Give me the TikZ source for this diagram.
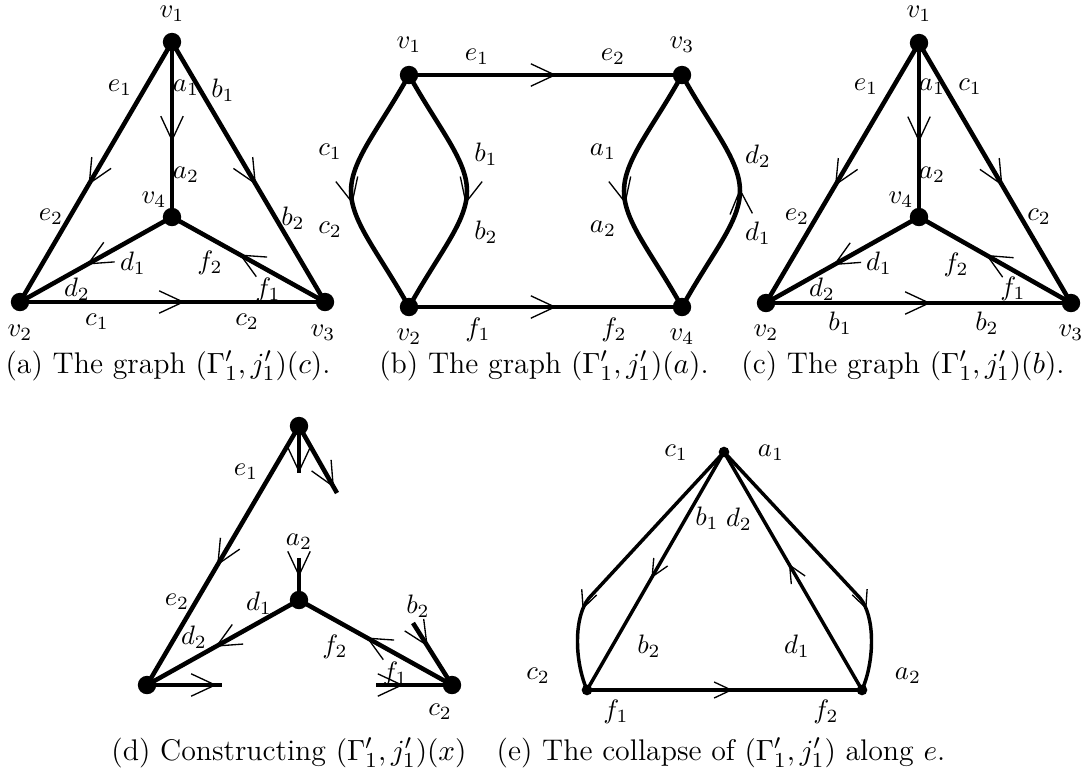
\documentclass[tikz,border=0pt]{standalone}
\usetikzlibrary{arrows.meta,decorations.markings}
\begin{document}
\begin{tikzpicture}[x=0.375pt,y=-0.375pt,
  edge/.style={line width=1.7pt},
  tedge/.style={line width=1.3pt},
  vtx/.style={circle,fill=black,inner sep=0pt,minimum size=6.9pt},
  svtx/.style={circle,fill=black,inner sep=0pt,minimum size=4pt},
  arr/.style={postaction={decorate,decoration={markings,mark=at position #1 with {\arrow{Straight Barb[length=9pt,width=8.4pt,line width=0.5pt]}}}}},
  sarr/.style={postaction={decorate,decoration={markings,mark=at position #1 with {\arrow{Straight Barb[length=6.4pt,width=6pt,line width=0.5pt]}}}}},
  lbl/.style={inner sep=0pt},
  captxt/.style={inner sep=0pt,anchor=base,font=\fontsize{11.2}{13}\selectfont},
]
\useasboundingbox (0,0) rectangle (1086,780);

% ---------------- (a) ----------------
\node[vtx] (va1) at (172,42) {};
\node[vtx] (va2) at (20,302) {};
\node[vtx] (va3) at (325,302) {};
\node[vtx] (va4) at (172,217) {};
\draw[edge,arr=0.55] (va1.center) -- (va2.center);
\draw[edge,arr=0.57] (va1.center) -- (va4.center);
\draw[edge,arr=0.55] (va1.center) -- (va3.center);
\draw[edge,arr=0.54] (va2.center) -- (va3.center);
\draw[edge,arr=0.56] (va4.center) -- (va2.center);
\draw[edge,arr=0.56] (va3.center) -- (va4.center);
\node[lbl] (la-v1) at (172,14) {$v_1$};
\node[lbl] (la-v2) at (20,333) {$v_2$};
\node[lbl] (la-v3) at (323,333) {$v_3$};
\node[lbl] (la-v4) at (154,200) {$v_4$};
\node[lbl] (la-e1) at (120,88) {$e_1$};
\node[lbl] (la-a1) at (186,88) {$a_1$};
\node[lbl] (la-b1) at (223,90) {$b_1$};
\node[lbl] (la-a2) at (186,175) {$a_2$};
\node[lbl] (la-e2) at (51,217) {$e_2$};
\node[lbl] (la-b2) at (293,218) {$b_2$};
\node[lbl] (la-d1) at (133,263) {$d_1$};
\node[lbl] (la-f2) at (210,263) {$f_2$};
\node[lbl] (la-d2) at (77,289) {$d_2$};
\node[lbl] (la-f1) at (268,290) {$f_1$};
\node[lbl] (la-c1) at (97,322) {$c_1$};
\node[lbl] (la-c2) at (247,322) {$c_2$};
\node[captxt] (capa) at (168,373) {(a) The graph $(\Gamma'_1, j'_1)(c)$.};

% ---------------- (b) ----------------
\node[vtx] (vb1) at (409,75) {};
\node[vtx] (vb3) at (682,75) {};
\node[vtx] (vb2) at (409,307) {};
\node[vtx] (vb4) at (682,307) {};
\draw[tedge,arr=0.54] (vb1.center) -- (vb3.center);
\draw[tedge,arr=0.54] (vb2.center) -- (vb4.center);
\draw[edge,arr=0.55] (vb1.center) .. controls (379,129) and (351,160) .. (351,191)
   .. controls (351,222) and (379,253) .. (vb2.center);
\draw[edge,arr=0.55] (vb1.center) .. controls (439,129) and (467,160) .. (467,191)
   .. controls (467,222) and (439,253) .. (vb2.center);
\draw[edge,arr=0.55] (vb3.center) .. controls (652,129) and (624,160) .. (624,191)
   .. controls (624,222) and (652,253) .. (vb4.center);
\draw[edge,arr=0.51] (vb4.center) .. controls (712,253) and (740,222) .. (740,191)
   .. controls (740,160) and (712,129) .. (vb3.center);
\node[lbl] (lb-v1) at (409,45) {$v_1$};
\node[lbl] (lb-v3) at (682,45) {$v_3$};
\node[lbl] (lb-v2) at (409,337) {$v_2$};
\node[lbl] (lb-v4) at (682,337) {$v_4$};
\node[lbl] (lb-e1) at (477,57) {$e_1$};
\node[lbl] (lb-e2) at (613,57) {$e_2$};
\node[lbl] (lb-f1) at (478,330) {$f_1$};
\node[lbl] (lb-f2) at (614,330) {$f_2$};
\node[lbl] (lb-c1) at (330,152) {$c_1$};
\node[lbl] (lb-c2) at (330,230) {$c_2$};
\node[lbl] (lb-b1) at (486,154) {$b_1$};
\node[lbl] (lb-b2) at (486,232) {$b_2$};
\node[lbl] (lb-a1) at (603,152) {$a_1$};
\node[lbl] (lb-a2) at (603,229) {$a_2$};
\node[lbl] (lb-d2) at (758,156) {$d_2$};
\node[lbl] (lb-d1) at (758,233) {$d_1$};
\node[captxt] (capb) at (544,373) {(b) The graph $(\Gamma'_1, j'_1)(a)$.};

% ---------------- (c) ----------------
\node[vtx] (vc1) at (919,43) {};
\node[vtx] (vc2) at (766,303) {};
\node[vtx] (vc3) at (1071,303) {};
\node[vtx] (vc4) at (919,217) {};
\draw[edge,arr=0.55] (vc1.center) -- (vc2.center);
\draw[edge,arr=0.57] (vc1.center) -- (vc4.center);
\draw[edge,arr=0.55] (vc1.center) -- (vc3.center);
\draw[edge,arr=0.54] (vc2.center) -- (vc3.center);
\draw[edge,arr=0.56] (vc4.center) -- (vc2.center);
\draw[edge,arr=0.56] (vc3.center) -- (vc4.center);
\node[lbl] (lc-v1) at (919,14) {$v_1$};
\node[lbl] (lc-v2) at (766,333) {$v_2$};
\node[lbl] (lc-v3) at (1071,333) {$v_3$};
\node[lbl] (lc-v4) at (901,200) {$v_4$};
\node[lbl] (lc-e1) at (866,87) {$e_1$};
\node[lbl] (lc-a1) at (932,87) {$a_1$};
\node[lbl] (lc-c1) at (970,87) {$c_1$};
\node[lbl] (lc-a2) at (932,175) {$a_2$};
\node[lbl] (lc-e2) at (797,217) {$e_2$};
\node[lbl] (lc-c2) at (1039,217) {$c_2$};
\node[lbl] (lc-d1) at (879,263) {$d_1$};
\node[lbl] (lc-f2) at (956,265) {$f_2$};
\node[lbl] (lc-d2) at (822,289) {$d_2$};
\node[lbl] (lc-f1) at (1013,289) {$f_1$};
\node[lbl] (lc-b1) at (840,323) {$b_1$};
\node[lbl] (lc-b2) at (987,323) {$b_2$};
\node[captxt] (capc) at (903,373) {(c) The graph $(\Gamma'_1, j'_1)(b)$.};

% ---------------- (d) ----------------
\node[vtx] (vd1) at (299,426) {};
\node[vtx] (vd2) at (147,685) {};
\node[vtx] (vd3) at (452,685) {};
\node[vtx] (vd4) at (299,600) {};
\coordinate (da1) at (299,473);
\coordinate (db1) at (337,493);
\coordinate (da2) at (299,558);
\coordinate (db2) at (413,623);
\coordinate (dc1) at (222,685);
\coordinate (dc2) at (376,685);
\draw[edge,arr=0.54] (vd1.center) -- (vd2.center);
\draw[edge,arr=0.55] (vd4.center) -- (vd2.center);
\draw[edge,arr=0.56] (vd3.center) -- (vd4.center);
\draw[edge,arr=0.999] (vd1.center) -- (da1);
\draw[edge,arr=0.92] (vd1.center) -- (db1);
\draw[edge,arr=0.45] (da2) -- (vd4.center);
\draw[edge,arr=0.38] (db2) -- (vd3.center);
\draw[edge,arr=0.93] (vd2.center) -- (dc1);
\draw[edge,arr=0.36] (dc2) -- (vd3.center);
\node[lbl] (ld-e1) at (246,472) {$e_1$};
\node[lbl] (ld-a2) at (299,542) {$a_2$};
\node[lbl] (ld-e2) at (177,602) {$e_2$};
\node[lbl] (ld-d1) at (259,603) {$d_1$};
\node[lbl] (ld-b2) at (418,606) {$b_2$};
\node[lbl] (ld-d2) at (194,637) {$d_2$};
\node[lbl] (ld-f2) at (335,647) {$f_2$};
\node[lbl] (ld-f1) at (395,674) {$f_1$};
\node[lbl] (ld-c2) at (440,712) {$c_2$};
\node[captxt] (capd) at (289,760) {(d) Constructing $(\Gamma'_1, j'_1)(x)$};

% ---------------- (e) ----------------
\node[svtx] (ve1) at (724,452) {};
\node[svtx] (ve2) at (587,690) {};
\node[svtx] (ve3) at (862,690) {};
\draw[tedge,sarr=0.53] (ve1.center) -- (ve2.center);
\draw[tedge,sarr=0.53] (ve3.center) -- (ve1.center);
\draw[tedge,sarr=0.53] (ve2.center) -- (ve3.center);
\draw[tedge,sarr=0.72] (ve1.center) -- (589,598) .. controls (574,616) and (574,660) .. (ve2.center);
\draw[tedge,sarr=0.72] (ve1.center) -- (860,598) .. controls (875,616) and (875,660) .. (ve3.center);
\node[lbl] (le-c1) at (676,453) {$c_1$};
\node[lbl] (le-a1) at (771,453) {$a_1$};
\node[lbl] (le-b1) at (707,518) {$b_1$};
\node[lbl] (le-d2) at (739,519) {$d_2$};
\node[lbl] (le-b2) at (649,646) {$b_2$};
\node[lbl] (le-d1) at (797,646) {$d_1$};
\node[lbl] (le-c2) at (538,676) {$c_2$};
\node[lbl] (le-a2) at (908,676) {$a_2$};
\node[lbl] (le-f1) at (616,712) {$f_1$};
\node[lbl] (le-f2) at (826,712) {$f_2$};
\node[captxt] (cape) at (721,760) {(e) The collapse of $(\Gamma'_1, j'_1)$ along $e$.};
\end{tikzpicture}
\end{document}
